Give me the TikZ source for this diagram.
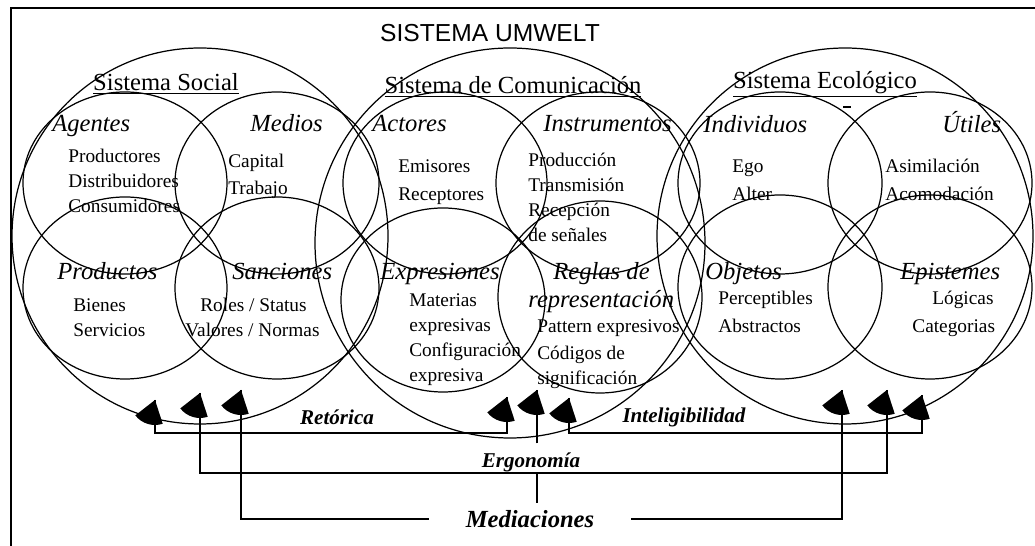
\documentclass[tikz,border=0pt]{standalone}
\usepackage{fontspec}
\setmainfont{Liberation Serif}
\newfontfamily\umweltfont{Liberation Sans}
\newcommand{\fanhead}[1]{\fill (#1) -- ++(142:25) arc[start angle=142, end angle=72, radius=25] -- cycle;}
\begin{document}
\begin{tikzpicture}[x=0.02cm, y=-0.02cm,
    ring/.style={line width=0.7pt},
    item/.style={anchor=west, inner sep=0pt, text height=0.7em, text depth=0.2em, font=\fontsize{11}{13}\selectfont},
    head/.style={anchor=west, inner sep=0pt, text height=0.7em, text depth=0.2em, font=\fontsize{14}{16}\selectfont\itshape},
    sysname/.style={inner sep=0pt, font=\fontsize{14}{16}\selectfont},
    linklabel/.style={inner sep=0pt, font=\fontsize{12}{14}\selectfont\bfseries\itshape}]
        \useasboundingbox (0, 0) rectangle (1035, 546);
        \draw[line width=1.2pt] (11, 546) -- (11, 8) -- (1035, 8);

        \node[inner sep=0pt, font=\umweltfont\fontsize{14}{16}\selectfont] (umwelt) at (490, 33) {SISTEMA UMWELT};

        \draw[ring] (200, 236) circle[radius=188];
        \draw[ring] (510, 243) circle[radius=195];
        \draw[ring] (845, 236) circle[radius=188];

        \draw[ring] (125, 183) circle[x radius=102, y radius=91];
        \draw[ring] (277, 183) circle[x radius=102, y radius=91];
        \draw[ring] (125, 288) circle[x radius=102, y radius=91];
        \draw[ring] (277, 288) circle[x radius=102, y radius=91];

        \draw[ring] (445, 183) circle[x radius=102, y radius=91];
        \draw[ring] (598, 183) circle[x radius=102, y radius=91];
        \draw[ring] (443, 300) circle[x radius=102, y radius=92];
        \draw[ring] (600, 297) circle[x radius=102, y radius=96];

        \draw[ring] (780, 183) circle[x radius=102, y radius=91];
        \draw[ring] (930, 183) circle[x radius=102, y radius=91];
        \draw[ring] (780, 287) circle[x radius=102, y radius=92];
        \draw[ring] (930, 287) circle[x radius=102, y radius=92];

        \fill (677, 233) circle[radius=1.3];
        \draw[line width=0.8pt] (843, 107) -- (851, 107);

        \node[sysname] (social) at (166, 84) {\underline{Sistema Social}};
        \node[sysname] (comunic) at (513, 87) {\underline{Sistema de Comunicación}};
        \node[sysname] (ecolog) at (825, 84) {\underline{Sistema Ecológico}};

        \node[head] (agentes) at (52, 127) {Agentes};
        \node[head] (medios) at (250, 127) {Medios};
        \node[head] (productos) at (57, 275) {Productos};
        \node[head] (sanciones) at (232, 275) {Sanciones};
        \node[head] (actores) at (372, 127) {Actores};
        \node[head] (instrum) at (543, 127) {Instrumentos};
        \node[head] (expres) at (380, 275) {Expresiones};
        \node[head] (reglas) at (553, 275) {Reglas de};
        \node[head] (reglas2) at (528, 303) {representación};
        \node[head] (individuos) at (703, 128) {Individuos};
        \node[head] (utiles) at (942, 128) {Útiles};
        \node[head] (objetos) at (705, 275) {Objetos};
        \node[head] (epistemes) at (900, 275) {Epistemes};

        \node[item] (prod) at (68, 158) {Productores};
        \node[item] (distr) at (68, 183) {Distribuidores};
        \node[item] (consu) at (68, 208) {Consumidores};
        \node[item] (capital) at (228, 163) {Capital};
        \node[item] (trabajo) at (228, 190) {Trabajo};
        \node[item] (bienes) at (73, 307) {Bienes};
        \node[item] (servicios) at (73, 332) {Servicios};
        \node[item] (roles) at (200, 307) {Roles / Status};
        \node[item] (valores) at (185, 332) {Valores / Normas};
        \node[item] (emisores) at (398, 168) {Emisores};
        \node[item] (receptores) at (398, 196) {Receptores};
        \node[item] (produccion) at (528, 162) {Producción};
        \node[item] (transm) at (528, 187) {Transmisión};
        \node[item] (recep) at (528, 212) {Recepción};
        \node[item] (senales) at (528, 237) {de señales};
        \node[item] (materias) at (409, 302) {Materias};
        \node[item] (expresivas) at (409, 327) {expresivas};
        \node[item] (config) at (409, 352) {Configuración};
        \node[item] (expresiva) at (409, 377) {expresiva};
        \node[item] (pattern) at (537, 328) {Pattern expresivos};
        \node[item] (codigos) at (537, 355) {Códigos de};
        \node[item] (signif) at (537, 380) {significación};
        \node[item] (ego) at (732, 168) {Ego};
        \node[item] (alter) at (732, 196) {Alter};
        \node[item] (asimil) at (885, 168) {Asimilación};
        \node[item] (acomod) at (885, 196) {Acomodación};
        \node[item] (percep) at (718, 300) {Perceptibles};
        \node[item] (abstr) at (718, 328) {Abstractos};
        \node[item] (logicas) at (932, 300) {Lógicas};
        \node[item] (categ) at (912, 328) {Categorias};

        \coordinate (sA) at (155, 400);
        \coordinate (sB) at (200, 393);
        \coordinate (sC) at (241, 390);
        \coordinate (cA) at (507, 397);
        \coordinate (cB) at (537, 390);
        \coordinate (cC) at (569, 398);
        \coordinate (eA) at (842, 390);
        \coordinate (eB) at (887, 390);
        \coordinate (eC) at (922, 395);
        \coordinate (retline) at (155, 433);
        \coordinate (ergline) at (200, 473);

        \node[linklabel] (retorica) at (337, 417) {Retórica};
        \node[linklabel] (intelig) at (684, 417) {Inteligibilidad};
        \node[linklabel, inner ysep=5pt] (ergo) at (531, 462) {Ergonomía};
        \node[linklabel, font=\fontsize{14}{16}\selectfont\bfseries\itshape, inner xsep=21pt, inner ysep=4pt] (medi) at (530, 519) {Mediaciones};

        \draw[line width=0.7pt] (sA) -- (sA |- retline) -| (cA);
        \draw[line width=0.7pt] (cC) -- (cC |- retline) -| (eC);
        \draw[line width=0.9pt] (sB) -- (sB |- ergline) -| (eB);
        \draw[line width=0.9pt] (cB |- ergo.north) -- (cB);
        \draw[line width=1.1pt] (cB |- medi.north) -- (cB |- ergline);
        \draw[line width=1.4pt] (sC) |- (medi.west);
        \draw[line width=1.4pt] (medi.east) -| (eA);

        \fanhead{sA}
        \fanhead{sB}
        \fanhead{sC}
        \fanhead{cA}
        \fanhead{cB}
        \fanhead{cC}
        \fanhead{eA}
        \fanhead{eB}
        \fanhead{eC}
    \end{tikzpicture}
\end{document}
